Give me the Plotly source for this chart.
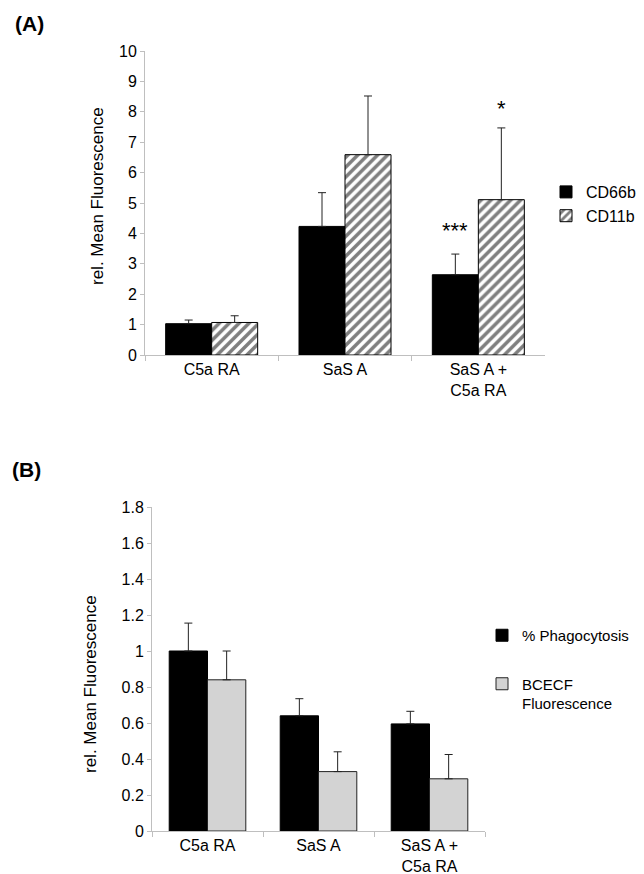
import plotly.graph_objects as go

W, H = 644, 874

# Panel A data
cats_a = ["C5a RA", "SaS A", "SaS A +<br>C5a RA"]
cd66b = [1.03, 4.23, 2.64]
cd66b_err = [0.12, 1.11, 0.68]
cd11b = [1.07, 6.59, 5.11]
cd11b_err = [0.22, 1.93, 2.36]

# Panel B data
cats_b = ["C5a RA", "SaS A", "SaS A +<br>C5a RA"]
phago = [1.0, 0.64, 0.595]
phago_err = [0.155, 0.095, 0.07]
bcecf = [0.84, 0.33, 0.29]
bcecf_err = [0.16, 0.11, 0.135]

yticks_a = list(range(0, 11))
yticks_b = [0, 0.2, 0.4, 0.6, 0.8, 1, 1.2, 1.4, 1.6, 1.8]
ytick_text_b = ["0", "0.2", "0.4", "0.6", "0.8", "1", "1.2", "1.4", "1.6", "1.8"]

FONT = "Liberation Sans, Arial, sans-serif"
AXC = "#bfbfbf"

def px_x(p):
    return p / W

def px_y(p):
    return 1 - p / H

def err(vals):
    return dict(type="data", symmetric=False, array=vals, arrayminus=[0] * len(vals),
                color="#222222", thickness=1, width=4)

fig = go.Figure()

fig.add_trace(go.Bar(x=cats_a, y=cd66b, name="CD66b", xaxis="x", yaxis="y",
                     marker=dict(color="black", line=dict(color="black", width=1)),
                     error_y=err(cd66b_err), legend="legend"))
fig.add_trace(go.Bar(x=cats_a, y=cd11b, name="CD11b", xaxis="x", yaxis="y",
                     marker=dict(color="white", line=dict(color="black", width=1),
                                 pattern=dict(shape="/", fgcolor="black", bgcolor="white",
                                              size=7, solidity=0.5)),
                     error_y=err(cd11b_err), legend="legend"))

fig.add_trace(go.Bar(x=cats_b, y=phago, name="% Phagocytosis", xaxis="x2", yaxis="y2",
                     marker=dict(color="black", line=dict(color="black", width=1)),
                     error_y=err(phago_err), legend="legend2", legendgroup="p"))
fig.add_trace(go.Bar(x=cats_b, y=bcecf, name="BCECF<br>Fluorescence", xaxis="x2", yaxis="y2",
                     marker=dict(color="#d3d3d3", line=dict(color="#222222", width=1)),
                     error_y=err(bcecf_err), legend="legend2", legendgroup="b"))

tickfont = dict(family=FONT, size=16, color="black")

fig.update_layout(
    width=W, height=H,
    margin=dict(l=0, r=0, t=0, b=0, autoexpand=False),
    paper_bgcolor="white", plot_bgcolor="white",
    font=dict(family=FONT, size=16, color="black"),
    barmode="group", bargap=0.31, bargroupgap=0,
    xaxis=dict(domain=[px_x(137), px_x(537)], anchor="y", type="category",
               showline=True, linecolor=AXC, linewidth=1, ticks="outside",
               tickson="boundaries", ticklen=5, tickcolor=AXC,
               tickfont=tickfont, showgrid=False),
    yaxis=dict(domain=[px_y(347), px_y(43)], anchor="x", range=[0, 10],
               tickvals=yticks_a, showline=True, linecolor=AXC, linewidth=1,
               ticks="outside", ticklen=4, tickcolor=AXC, tickfont=tickfont,
               showgrid=False, zeroline=False),
    xaxis2=dict(domain=[px_x(144), px_x(477)], anchor="y2", type="category",
                showline=True, linecolor=AXC, linewidth=1, ticks="outside",
                tickson="boundaries", ticklen=5, tickcolor=AXC,
                tickfont=tickfont, showgrid=False),
    yaxis2=dict(domain=[px_y(823), px_y(499)], anchor="x2", range=[0, 1.8],
                tickvals=yticks_b, ticktext=ytick_text_b, showline=True, linecolor=AXC,
                linewidth=1, ticks="outside", ticklen=4, tickcolor=AXC, tickfont=tickfont,
                showgrid=False, zeroline=False),
    legend=dict(x=px_x(538), y=px_y(167), xanchor="left", yanchor="top",
                font=dict(family=FONT, size=16), bgcolor="rgba(0,0,0,0)",
                itemwidth=30, tracegroupgap=0, traceorder="normal"),
    legend2=dict(x=px_x(474), y=px_y(611), xanchor="left", yanchor="top",
                 font=dict(family=FONT, size=15), bgcolor="rgba(0,0,0,0)",
                 itemwidth=30, tracegroupgap=26, traceorder="grouped", valign="top"),
)

annotations = [
    dict(text="<b>(A)</b>", x=px_x(5), y=px_y(15), xref="paper", yref="paper",
         xanchor="left", yanchor="middle", showarrow=False,
         font=dict(family=FONT, size=21, color="black")),
    dict(text="<b>(B)</b>", x=px_x(2), y=px_y(462), xref="paper", yref="paper",
         xanchor="left", yanchor="middle", showarrow=False,
         font=dict(family=FONT, size=21, color="black")),
    dict(text="rel. Mean Fluorescence", x=px_x(90), y=px_y(188), xref="paper", yref="paper",
         textangle=-90, showarrow=False, xanchor="center", yanchor="middle",
         font=dict(family=FONT, size=17, color="black")),
    dict(text="rel. Mean Fluorescence", x=px_x(82), y=px_y(676), xref="paper", yref="paper",
         textangle=-90, showarrow=False, xanchor="center", yanchor="middle",
         font=dict(family=FONT, size=17, color="black")),
    dict(text="***", x=2 - 0.1725, y=cd66b[2] + cd66b_err[2], xref="x", yref="y",
         yanchor="bottom", yshift=9, showarrow=False,
         font=dict(family=FONT, size=22, color="black")),
    dict(text="*", x=2 + 0.1725, y=cd11b[2] + cd11b_err[2], xref="x", yref="y",
         yanchor="bottom", yshift=5, showarrow=False,
         font=dict(family=FONT, size=22, color="black")),
]
fig.update_layout(annotations=annotations)

fig.write_html("out.html")
